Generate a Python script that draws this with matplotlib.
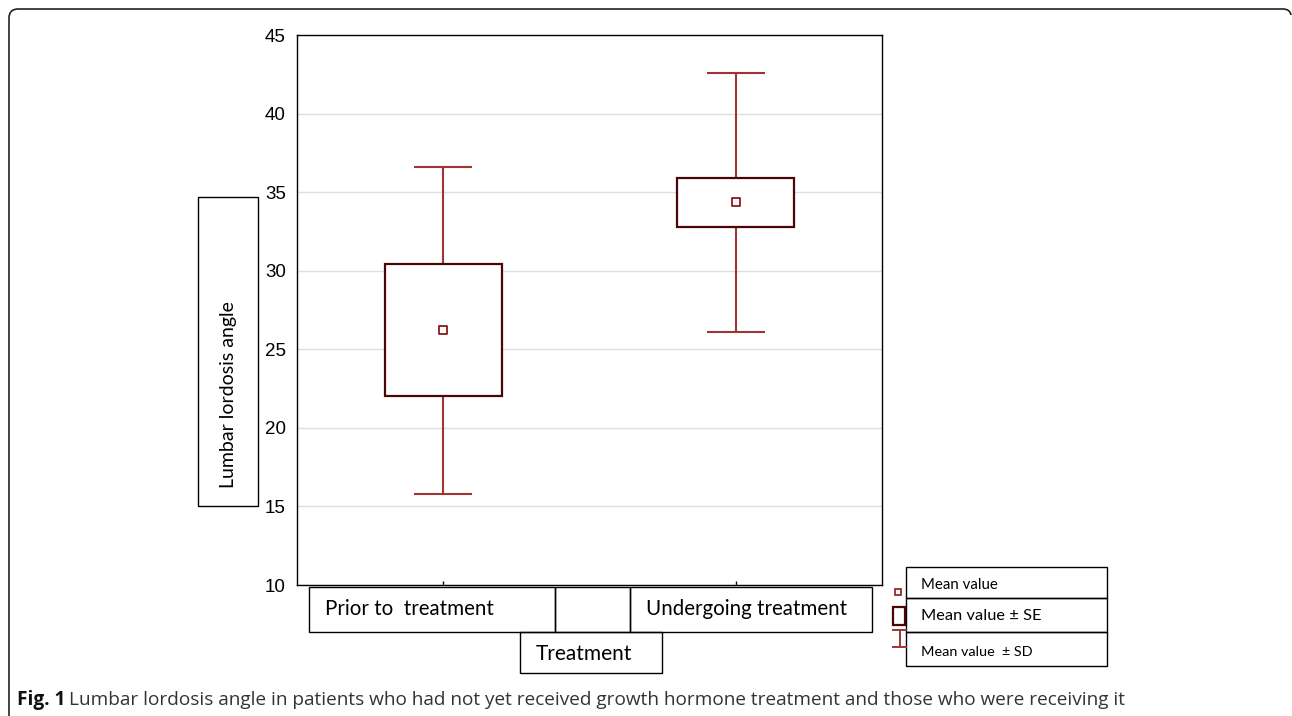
import matplotlib.pyplot as plt
from matplotlib.patches import Rectangle, PathPatch
from matplotlib.path import Path
from matplotlib.lines import Line2D

# data
groups = ["Prior to  treatment", "Undergoing treatment"]
means = [26.2, 34.35]
se = [4.2, 1.56]
sd = [10.4, 8.24]
yticks = [10, 15, 20, 25, 30, 35, 40, 45]

W, H = 1292, 716
box_col = "#4a0505"
whisk_col = "#9e3434"
mean_col = "#8b1a1a"
txt_font = ["Lato", "DejaVu Sans"]

fig = plt.figure(figsize=(W / 100, H / 100), dpi=100)


def px(x, y):
    # pixel (from top-left) -> figure fraction
    return x / W, 1 - y / H


def rect(x0, y0, x1, y1, lw=1.0):
    fx, fy = px(x0, y1)
    fig.patches.append(Rectangle((fx, fy), (x1 - x0) / W, (y1 - y0) / H,
                                 transform=fig.transFigure, fill=False,
                                 edgecolor="black", linewidth=lw))


ax = fig.add_axes([297 / W, 1 - 585 / H, 585 / W, 550 / H])
pos = list(range(len(groups)))

ax.errorbar(pos, means, yerr=sd, fmt="none", ecolor=whisk_col, elinewidth=1.5,
            capsize=21, capthick=1.5, zorder=2)
ax.bar(pos, [2 * s for s in se], bottom=[m - s for m, s in zip(means, se)],
       width=0.4, color="white", edgecolor=box_col, linewidth=1.6, zorder=3)
ax.scatter(pos, means, marker="s", s=28, facecolor="white", edgecolor=mean_col,
           linewidth=1.3, zorder=4)

ax.set_xlim(-0.5, 1.5)
ax.set_ylim(10, 45)
ax.set_yticks(yticks)
ax.set_yticklabels([str(t) for t in yticks], fontfamily="Liberation Sans", fontsize=13.5)
ax.set_xticks(pos)
ax.set_xticklabels([])
ax.tick_params(axis="y", length=0, pad=8)
ax.tick_params(axis="x", direction="in", length=3, width=1)
ax.grid(axis="y", color="#dedede", linewidth=1)
ax.set_axisbelow(True)
for s in ax.spines.values():
    s.set_linewidth(1.0)

# category label boxes
rect(309, 587, 555, 632)
rect(555, 587, 630, 632)
rect(630, 587, 872, 632)
fig.text(*px(325, 609), groups[0], ha="left", va="center", fontsize=14.8, family=txt_font)
fig.text(*px(646, 609), groups[1], ha="left", va="center", fontsize=14.8, family=txt_font)
rect(520, 632, 662, 673)
fig.text(*px(584, 654), "Treatment", ha="center", va="center", fontsize=15, family=txt_font)

# y label box
rect(198, 197, 258, 506)
fig.text(*px(228, 395), "Lumbar lordosis angle", rotation=90, ha="center", va="center",
         fontsize=14, family=txt_font)

# legend
rect(906, 567, 1107, 598)
rect(906, 598, 1107, 632)
rect(906, 632, 1107, 666)
fig.text(*px(921, 585), "Mean value", ha="left", va="center", fontsize=10.8, family=txt_font)
fig.text(*px(921, 616), "Mean value ± SE", ha="left", va="center", fontsize=11.8, family=txt_font)
fig.text(*px(921, 652), "Mean value  ± SD", ha="left", va="center", fontsize=10.4, family=txt_font)
mx, my = px(898, 592)
fig.lines.append(Line2D([mx], [my], marker="s", markersize=5, markerfacecolor="white",
                        markeredgecolor=mean_col, markeredgewidth=1.2,
                        transform=fig.transFigure))
bx0, by0 = px(893, 625)
fig.patches.append(Rectangle((bx0, by0), 12 / W, 18 / H, transform=fig.transFigure,
                             fill=False, edgecolor=box_col, linewidth=1.6))
for seg in [((900, 630), (900, 647)), ((893, 630), (906, 630)), ((893, 647), (906, 647))]:
    (x0, y0), (x1, y1) = seg
    a, b = px(x0, y0)
    c, d = px(x1, y1)
    fig.lines.append(Line2D([a, c], [b, d], color=whisk_col, linewidth=1.4,
                            transform=fig.transFigure))

# outer frame: left side, top with rounded corners
frame_pts = [(9, 720), (9, 18), (9, 9), (18, 9), (1283, 9), (1290, 9), (1291, 15)]
frame_codes = [Path.MOVETO, Path.LINETO, Path.CURVE3, Path.CURVE3,
               Path.LINETO, Path.CURVE3, Path.CURVE3]
frame = Path([px(x, y) for x, y in frame_pts], frame_codes)
fig.patches.append(PathPatch(frame, transform=fig.transFigure, fill=False,
                             edgecolor="#222222", linewidth=1.2))

# caption
t1 = fig.text(*px(17, 700), "Fig. 1", ha="left", va="center", fontsize=13.7,
              fontweight="bold", family=["Open Sans", "DejaVu Sans"], color="#111111")
fig.canvas.draw()
bb = t1.get_window_extent()
fig.text(bb.x1 / W + 4 / W, px(0, 700)[1],
         "Lumbar lordosis angle in patients who had not yet received growth hormone treatment and those who were receiving it",
         ha="left", va="center", fontsize=13.7, family=["Open Sans", "DejaVu Sans"], color="#333333")

fig.savefig("out.png", dpi=100)
